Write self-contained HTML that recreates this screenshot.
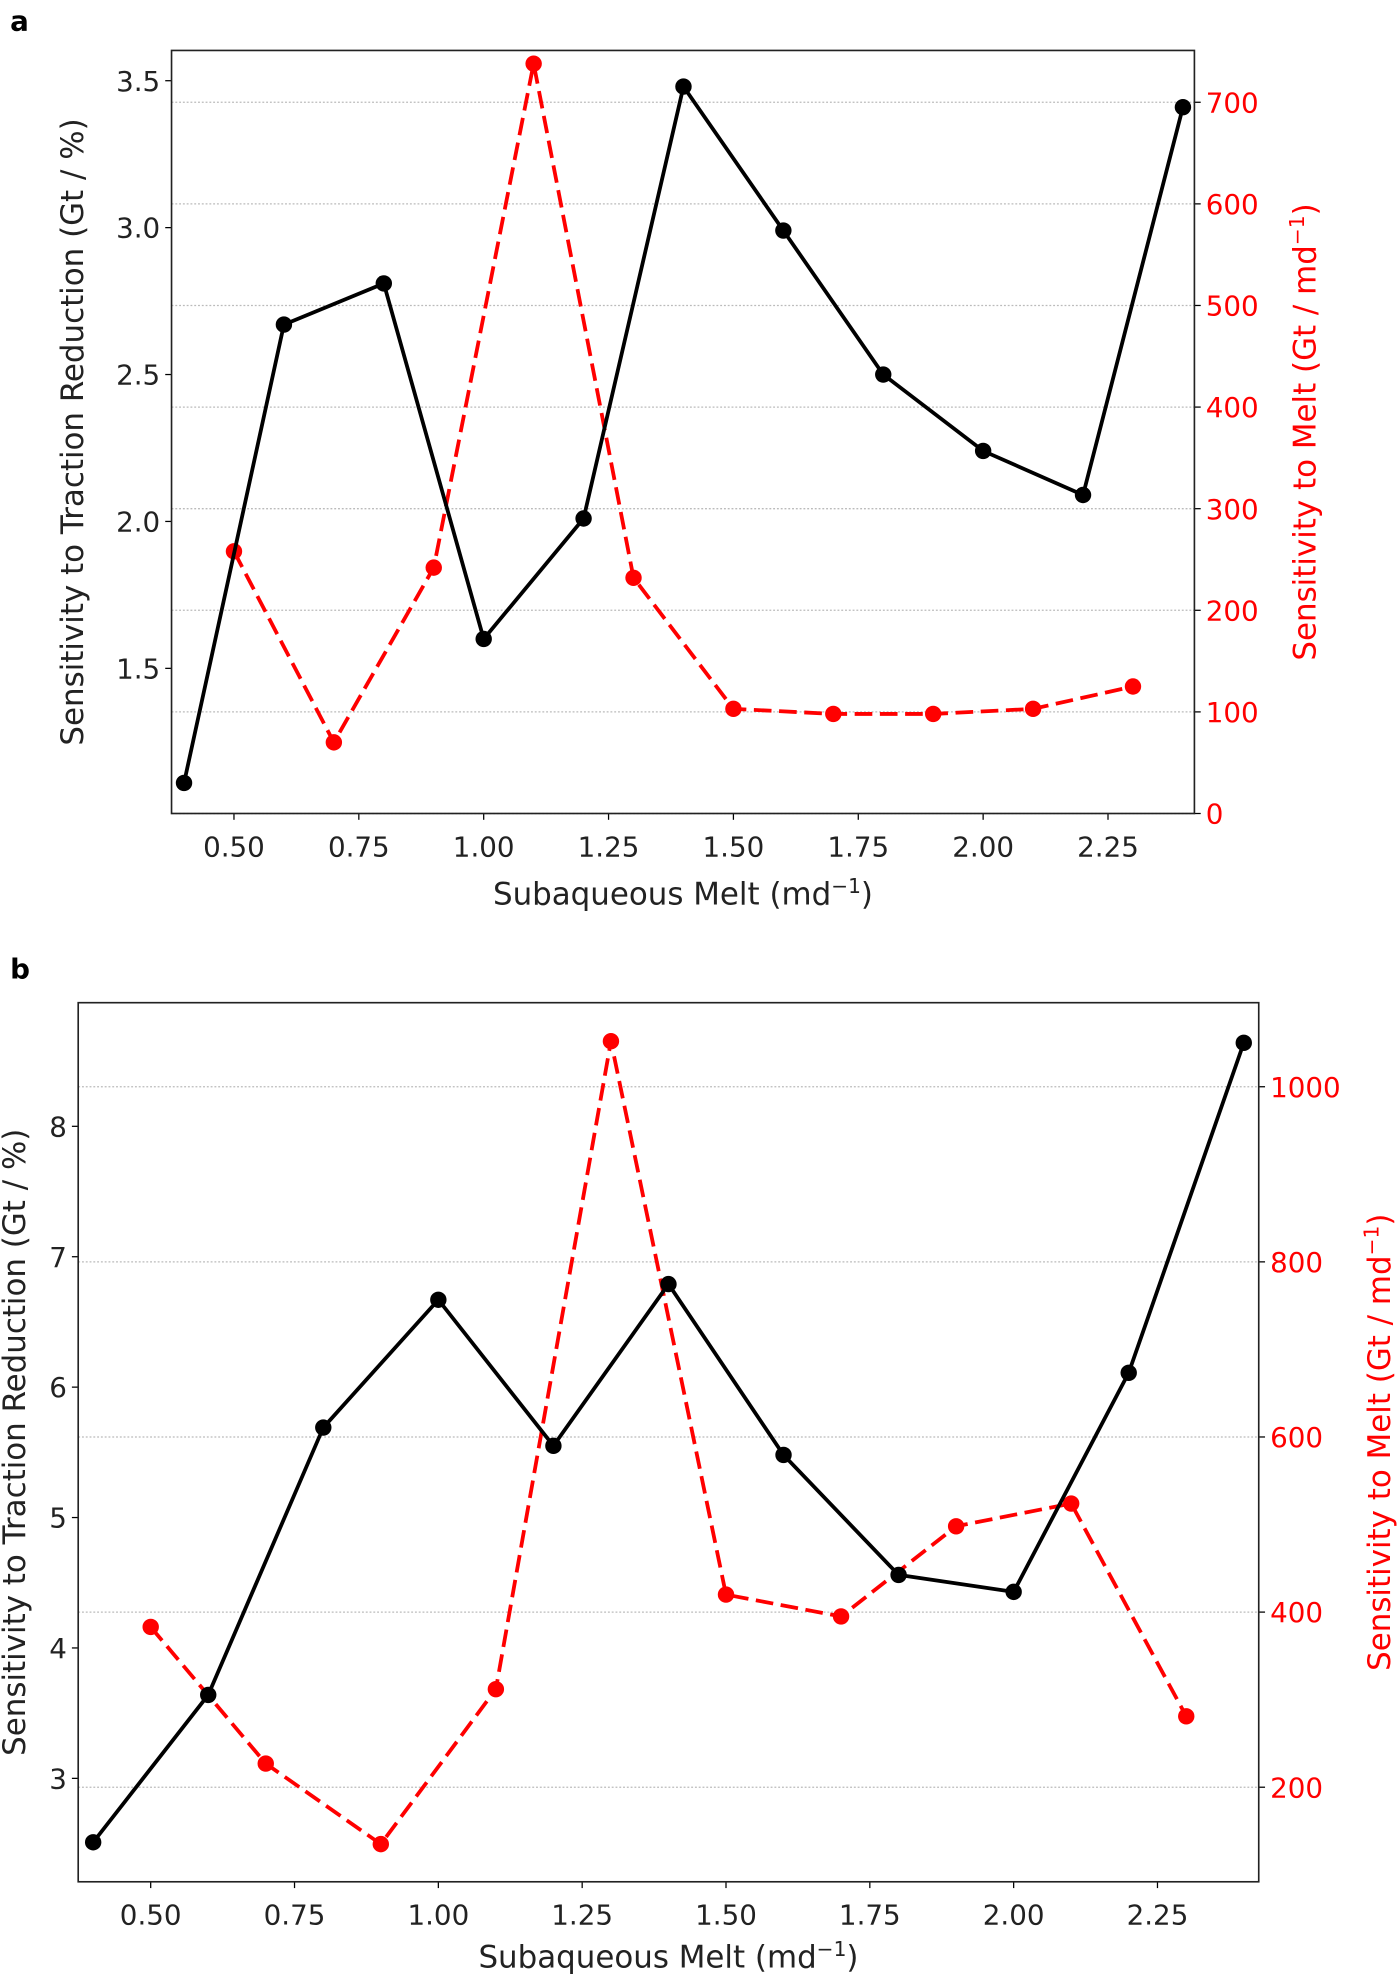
<!DOCTYPE html>
<html><head><meta charset="utf-8">
<style>html,body{margin:0;padding:0;background:#fff}svg{display:block}text{font-family:"DejaVu Sans","Liberation Sans",sans-serif}</style>
</head><body>
<svg id="fig" width="1400" height="1977" viewBox="0 0 1110 1567.5" xmlns="http://www.w3.org/2000/svg">
<text x="8" y="24" font-size="22" font-weight="bold">a</text>
<text x="8" y="776" font-size="22" font-weight="bold">b</text>
</svg>
<script>
const xBlack = [0.4,0.6,0.8,1.0,1.2,1.4,1.6,1.8,2.0,2.2,2.4];
const xRed = [0.5,0.7,0.9,1.1,1.3,1.5,1.7,1.9,2.1,2.3];
const aBlack = [1.11,2.67,2.81,1.60,2.01,3.48,2.99,2.50,2.24,2.09,3.41];
const aRed = [258,70,242,738,232,103,98,98,103,125];
const bBlack = [2.51,3.64,5.69,6.67,5.55,6.79,5.48,4.56,4.43,6.11,8.64];
const bRed = [383,227,135,312,1052,420,395,498,524,281];
const xTicks = [0.5,0.75,1.0,1.25,1.5,1.75,2.0,2.25];
const xTickLabels = ["0.50","0.75","1.00","1.25","1.50","1.75","2.00","2.25"];
const aLeftTicks = [1.5,2.0,2.5,3.0,3.5];
const aLeftLabels = ["1.5","2.0","2.5","3.0","3.5"];
const aRightTicks = [0,100,200,300,400,500,600,700];
const bLeftTicks = [3,4,5,6,7,8];
const bRightTicks = [200,400,600,800,1000];

const NS="http://www.w3.org/2000/svg";
const svg=document.getElementById('fig');
function mk(tag,attrs,parent){const e=document.createElementNS(NS,tag);for(const k in attrs)e.setAttribute(k,attrs[k]);(parent||svg).appendChild(e);return e;}

function panel(cfg){
  const g=mk('g',{});
  
  
  const X=v=>cfg.L+(v-cfg.xmin)/(cfg.xmax-cfg.xmin)*(cfg.R-cfg.L);
  const YL=v=>cfg.B-(v-cfg.lmin)/(cfg.lmax-cfg.lmin)*(cfg.B-cfg.T);
  const YR=v=>cfg.B-(v-cfg.rmin)/(cfg.rmax-cfg.rmin)*(cfg.B-cfg.T);
  cfg.rTicks.forEach(t=>{const y=YR(t);if(y<cfg.T||y>cfg.B)return;
    const l=mk('line',{x1:cfg.L,x2:cfg.R,y1:y,y2:y,stroke:'#bbb','stroke-width':1,'stroke-dasharray':'1.5,1.5'},g);
    
    });
  xTicks.forEach((t,i)=>{const x=X(t);
    mk('line',{x1:x,x2:x,y1:cfg.B,y2:cfg.B+5,stroke:'#000','stroke-width':1},g);
    const tx=mk('text',{x:x,y:cfg.B+34,'font-size':22,'text-anchor':'middle',fill:'#222'},g);tx.textContent=xTickLabels[i];
    
    });
  cfg.lTicks.forEach((t,i)=>{const y=YL(t);
    mk('line',{x1:cfg.L-5,x2:cfg.L,y1:y,y2:y,stroke:'#000','stroke-width':1},g);
    const tx=mk('text',{x:cfg.L-9,y:y+8,'font-size':22,'text-anchor':'end',fill:'#222'},g);tx.textContent=cfg.lLabels[i];
    
    });
  cfg.rTicks.forEach(t=>{const y=YR(t);
    mk('line',{x1:cfg.R,x2:cfg.R+5,y1:y,y2:y,stroke:'#000','stroke-width':1},g);
    const tx=mk('text',{x:cfg.R+9,y:y+8,'font-size':22,fill:'#f00'},g);tx.textContent=String(t);
    
    });
  const redPts=xRed.map((x,i)=>X(x)+','+YR(cfg.red[i])).join(' ');
  const rl=mk('polyline',{points:redPts,fill:'none',stroke:'#f00','stroke-width':3,'stroke-dasharray':'14,6'},g);
  
  
  xRed.forEach((x,i)=>{const c=mk('circle',{cx:X(x),cy:YR(cfg.red[i]),r:6.5,fill:'#f00'},g);
    
    });
  const blkPts=xBlack.map((x,i)=>X(x)+','+YL(cfg.black[i])).join(' ');
  const bl=mk('polyline',{points:blkPts,fill:'none',stroke:'#000','stroke-width':3,'stroke-linejoin':'round'},g);
  
  
  xBlack.forEach((x,i)=>{const c=mk('circle',{cx:X(x),cy:YL(cfg.black[i]),r:6.5,fill:'#000'},g);
    
    });
  const box=mk('rect',{x:cfg.L,y:cfg.T,width:cfg.R-cfg.L,height:cfg.B-cfg.T,fill:'none',stroke:'#222','stroke-width':1.3},g);
  
  
  const xl=mk('text',{x:(cfg.L+cfg.R)/2,y:cfg.xlY,'font-size':24.5,'text-anchor':'middle',fill:'#222'},g);
  xl.innerHTML='Subaqueous Melt (md<tspan dy="-9" font-size="16">−1</tspan><tspan dy="9">)</tspan>';
  
  
  const cy=(cfg.T+cfg.B)/2;
  const ll=mk('text',{x:cfg.llX,y:cy,'font-size':24.5,'text-anchor':'middle',fill:'#222',transform:`rotate(-90 ${cfg.llX} ${cy})`},g);
  ll.textContent='Sensitivity to Traction Reduction (Gt / %)';
  
  
  const rl2=mk('text',{x:cfg.rlX,y:cy,'font-size':24.5,'text-anchor':'middle',fill:'#f00',transform:`rotate(-90 ${cfg.rlX} ${cy})`},g);
  rl2.innerHTML='Sensitivity to Melt (Gt / md<tspan dy="-9" font-size="16">−1</tspan><tspan dy="9">)</tspan>';
  
  
}
panel({name:'panel-a-chart',L:136,R:947,T:40,B:645,xmin:0.375,xmax:2.423,lmin:1.006,lmax:3.603,rmin:0,rmax:751,
  lTicks:aLeftTicks,lLabels:aLeftLabels,rTicks:aRightTicks,black:aBlack,red:aRed,xlY:717,llX:66,rlX:1043});
panel({name:'panel-b-chart',L:62,R:998,T:795,B:1492,xmin:0.374,xmax:2.426,lmin:2.207,lmax:8.948,rmin:92,rmax:1096,
  lTicks:bLeftTicks,lLabels:bLeftTicks.map(String),rTicks:bRightTicks,black:bBlack,red:bRed,xlY:1560,llX:20,rlX:1102});
</script>
</body></html>
